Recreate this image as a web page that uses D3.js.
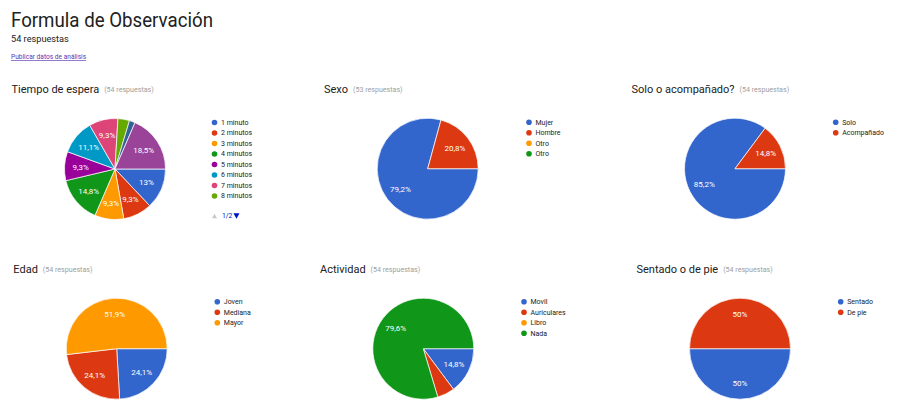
<!DOCTYPE html>
<html><head><meta charset="utf-8">
<script src="https://cdn.jsdelivr.net/npm/d3@7"></script>
<style>
body{margin:0;background:#fff;font-family:Roboto,"Noto Sans",Arial,sans-serif;}
svg{display:block;}
</style></head>
<body>
<svg id="c" width="900" height="411"></svg>
<script>
// ---- data ----
const tiempoCats = ["1 minuto","2 minutos","3 minutos","4 minutos","5 minutos","6 minutos","7 minutos","8 minutos","9 minutos","10 minutos","Más de 10 minutos"];
const tiempoVals = [7,5,5,8,5,6,5,2,0,1,10];
const sexoCats = ["Mujer","Hombre","Otro","Otro"];
const sexoVals = [42,11,0,0];
const soloCats = ["Solo","Acompañado"];
const soloVals = [46,8];
const edadCats = ["Joven","Mediana","Mayor"];
const edadVals = [13,13,28];
const actCats = ["Movil","Auriculares","Libro","Nada"];
const actVals = [8,3,0,43];
const sentCats = ["Sentado","De pie"];
const sentVals = [27,27];
const titles = ["Tiempo de espera","Sexo","Solo o acompañado?","Edad","Actividad","Sentado o de pie"];
const responses = [54,53,54,54,54,54];

const palette = ["#3366cc","#dc3912","#ff9900","#109618","#990099","#0099c6","#dd4477","#66aa00","#b82e2e","#316395","#994499","#22aa99"];

// ---- layout ----
const charts = [
  {cats:tiempoCats, vals:tiempoVals, tx:11.5, ty:93, cx:115, cy:169, lx:214.5, ly:122.5, legendMax:8},
  {cats:sexoCats, vals:sexoVals, tx:324, ty:93, cx:427.7, cy:168.7, lx:529, ly:122.3},
  {cats:soloCats, vals:soloVals, tx:631.5, ty:93, cx:735, cy:168.7, lx:835.7, ly:122.3},
  {cats:edadCats, vals:edadVals, tx:13.3, ty:273.3, cx:116.7, cy:348.7, lx:217.3, ly:301.7},
  {cats:actCats, vals:actVals, tx:320, ty:273.3, cx:423.3, cy:348.7, lx:524, ly:301.7},
  {cats:sentCats, vals:sentVals, tx:636.5, ty:273.3, cx:740, cy:348.7, lx:840.7, ly:301.7}
];
const R = 50.5;

const svg = d3.select("#c");

svg.append("text").attr("x",11).attr("y",27).attr("font-size",21).attr("fill","#212121")
  .attr("textLength",202).attr("lengthAdjust","spacingAndGlyphs").text("Formula de Observación");
svg.append("text").attr("x",11).attr("y",41.5).attr("font-size",9.2).attr("fill","#212121").text("54 respuestas");
svg.append("text").attr("x",11).attr("y",59).attr("font-size",6.6).attr("fill","#5e35b1")
  .attr("text-decoration","underline").text("Publicar datos de análisis");

const fmt = d3.format(".1~f");
const pie = d3.pie().sort(null).startAngle(Math.PI/2).endAngle(Math.PI/2 + 2*Math.PI);
const arc = d3.arc().innerRadius(0).outerRadius(R);
const labelArc = d3.arc().innerRadius(R*0.68).outerRadius(R*0.68);

charts.forEach((c,i)=>{
  const g = svg.append("g");
  const t = g.append("text").attr("x",c.tx).attr("y",c.ty).attr("font-size",11).attr("fill","#212121").text(titles[i]);
  const w = t.node().getComputedTextLength();
  g.append("text").attr("x",c.tx+w+5).attr("y",c.ty-1).attr("font-size",7.1).attr("fill","#9e9e9e").text(`(${responses[i]} respuestas)`);

  const total = d3.sum(c.vals);
  const color = d3.scaleOrdinal().domain(d3.range(c.cats.length)).range(palette);
  const data = c.vals.map((v,k)=>({k,v}));
  const arcs = pie.value(d=>d.v)(data);
  const pg = g.append("g").attr("transform",`translate(${c.cx},${c.cy})`);
  pg.selectAll("path").data(arcs.filter(a=>a.data.v>0)).join("path")
    .attr("d",arc).attr("fill",a=>color(a.data.k)).attr("stroke","#fff").attr("stroke-width",0.7);
  pg.selectAll("text").data(arcs.filter(a=>a.data.v/total>=0.07)).join("text")
    .attr("transform",a=>`translate(${labelArc.centroid(a)})`)
    .attr("text-anchor","middle").attr("dy","0.35em").attr("font-size",8).attr("fill","#fff")
    .text(a=>fmt(a.data.v/total*100).replace(".",",")+"%");

  const n = c.legendMax ? Math.min(c.legendMax,c.cats.length) : c.cats.length;
  const y = d3.scaleLinear().domain([0,1]).range([c.ly,c.ly+10.5]);
  const lg = g.append("g");
  d3.range(n).forEach(k=>{
    lg.append("circle").attr("cx",c.lx).attr("cy",y(k)).attr("r",2.8).attr("fill",color(k));
    lg.append("text").attr("x",c.lx+6.5).attr("y",y(k)).attr("dy","0.35em").attr("font-size",7).attr("fill","#222").text(c.cats[k]);
  });
  if(c.legendMax && c.cats.length>c.legendMax){
    const py = y(n-1)+20;
    lg.append("path").attr("d",`M${c.lx-2.5},${py+2.3}L${c.lx+2.5},${py+2.3}L${c.lx},${py-2.3}Z`).attr("fill","#c8c8c8");
    lg.append("text").attr("x",c.lx+7.5).attr("y",py).attr("dy","0.35em").attr("font-size",6.8).attr("fill","#0011cc").text("1/2");
    const dx = c.lx+22;
    lg.append("path").attr("d",`M${dx-3},${py-2.8}L${dx+3},${py-2.8}L${dx},${py+2.8}Z`).attr("fill","#0011cc");
  }
});
</script>
</body></html>
